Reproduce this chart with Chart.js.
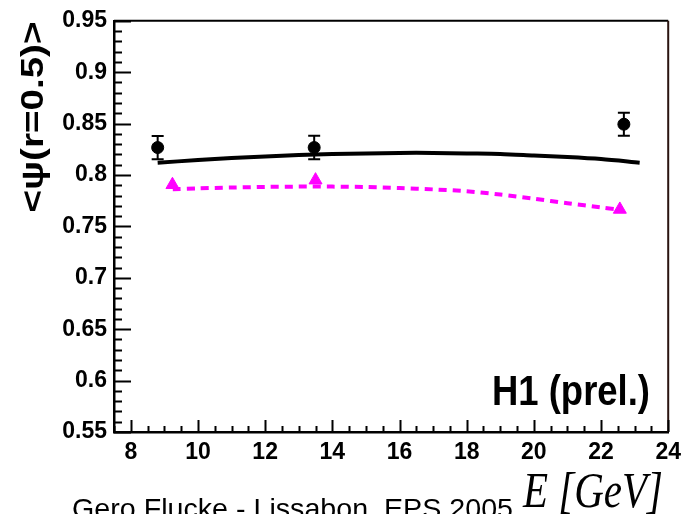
<!DOCTYPE html>
<html>
<head>
<meta charset="utf-8">
<script src="https://cdn.jsdelivr.net/npm/chart.js@4.4.1/dist/chart.umd.min.js"></script>
<style>
  html, body { margin: 0; padding: 0; background: #fff; overflow: hidden; }
  #c { display: block; }
</style>
</head>
<body>
<canvas id="c" width="688" height="514"></canvas>
<script>
// data points (black circles) with errors
const dataE = [8.80, 13.46, 22.68];
const dataPsi = [0.8267, 0.8267, 0.8494];
const dataErr = [0.0113, 0.0115, 0.0112];

// MC points (magenta triangles)
const mcE = [9.24, 13.50, 22.56];
const mcPsi = [0.7905, 0.795, 0.7665];

// solid black curve
const curveE = [8.8, 10, 11, 12, 13, 14, 15, 16, 17, 18, 19, 20, 21, 22, 23.15];
const curvePsi = [0.812, 0.8145, 0.8165, 0.818, 0.8195, 0.8205, 0.821, 0.8215, 0.8215, 0.821, 0.8205, 0.819, 0.8175, 0.8155, 0.812];

// dashed magenta curve
const dashE = [9.25, 10, 11, 12, 13, 14, 15, 16, 17, 18, 19, 20, 21, 22, 22.5];
const dashPsi = [0.7862, 0.787, 0.7878, 0.7884, 0.7887, 0.7887, 0.7883, 0.7873, 0.786, 0.7842, 0.781, 0.777, 0.7725, 0.7685, 0.7665];

const xTicks = [8, 10, 12, 14, 16, 18, 20, 22, 24];
const yTicks = [0.55, 0.6, 0.65, 0.7, 0.75, 0.8, 0.85, 0.9, 0.95];

const toXY = (xs, ys) => xs.map((x, i) => ({ x: x, y: ys[i] }));
const FONT = '"Liberation Sans", Arial, sans-serif';

// text squeezed/stretched to a target width, extra vertical factor sy
function fitText(ctx, text, font, x, y, w, sy, align) {
  ctx.save();
  ctx.font = font;
  const mw = ctx.measureText(text).width;
  ctx.translate(x, y);
  ctx.scale(w / mw, sy);
  ctx.textAlign = align || 'left';
  ctx.textBaseline = 'alphabetic';
  ctx.fillText(text, 0, 0);
  ctx.restore();
}

const rootStyle = {
  id: 'rootStyle',
  beforeDatasetsDraw(chart) {
    const ctx = chart.ctx, xs = chart.scales.x, ys = chart.scales.y;
    ctx.save();
    ctx.strokeStyle = '#000';
    ctx.lineWidth = 2;
    dataE.forEach((e, i) => {
      const px = xs.getPixelForValue(e);
      const y1 = ys.getPixelForValue(dataPsi[i] + dataErr[i]);
      const y2 = ys.getPixelForValue(dataPsi[i] - dataErr[i]);
      ctx.beginPath();
      ctx.moveTo(px, y1); ctx.lineTo(px, y2);
      ctx.moveTo(px - 6, y1); ctx.lineTo(px + 6, y1);
      ctx.moveTo(px - 6, y2); ctx.lineTo(px + 6, y2);
      ctx.stroke();
    });
    ctx.restore();
  },
  afterDraw(chart) {
    const ctx = chart.ctx, a = chart.chartArea;
    const xs = chart.scales.x, ys = chart.scales.y;
    ctx.save();
    // frame top and right
    ctx.lineWidth = 2;
    ctx.strokeStyle = '#000';
    ctx.beginPath();
    ctx.moveTo(a.left, a.top); ctx.lineTo(a.right, a.top);
    ctx.stroke();
    ctx.strokeStyle = '#2a1410';
    ctx.beginPath();
    ctx.moveTo(a.right, a.top); ctx.lineTo(a.right, a.bottom);
    ctx.stroke();

    // inner ticks
    ctx.strokeStyle = '#000';
    ctx.lineWidth = 2;
    ctx.beginPath();
    for (let v = 0.55; v <= 0.9501; v += 0.01) {
      const py = Math.round(ys.getPixelForValue(v)) + 0.5;
      const major = Math.abs(Math.round(v * 100) % 5) === 0;
      ctx.moveTo(a.left, py); ctx.lineTo(a.left + (major ? 17 : 8), py);
    }
    for (let v = 7.5; v <= 24.001; v += 0.5) {
      const px = Math.round(xs.getPixelForValue(v)) + 0.5;
      const major = Math.abs(v % 2) < 0.01;
      ctx.moveTo(px, a.bottom); ctx.lineTo(px, a.bottom - (major ? 12 : 6));
    }
    ctx.stroke();

    // texts
    ctx.fillStyle = '#000';
    fitText(ctx, 'H1 (prel.)', 'bold 36px ' + FONT, 492, 405, 158, 1.16);
    fitText(ctx, 'E [GeV]', 'italic 41px "Liberation Serif", "Times New Roman", serif', 523, 507, 140, 1.25);
    fitText(ctx, 'Gero Flucke - Lissabon, EPS 2005', '28px ' + FONT, 72, 518, 441, 1);

    // y title, rotated
    ctx.save();
    ctx.translate(43, 117);
    ctx.rotate(-Math.PI / 2);
    ctx.font = 'bold 31px ' + FONT;
    const t = '<\u03c8(r=0.5)>';
    const mw = ctx.measureText(t).width;
    ctx.scale(191 / mw, 1);
    ctx.textAlign = 'center';
    ctx.textBaseline = 'alphabetic';
    ctx.fillText(t, 0, 0);
    ctx.restore();

    ctx.restore();
  }
};

new Chart(document.getElementById('c'), {
  type: 'scatter',
  data: {
    datasets: [
      {
        data: toXY(curveE, curvePsi), showLine: true, borderColor: '#000', borderWidth: 4,
        pointRadius: 0, tension: 0.3, order: 4
      },
      {
        data: toXY(dashE, dashPsi), showLine: true, borderColor: '#ff00ff', borderWidth: 4,
        borderDash: [8, 6], pointRadius: 0, tension: 0.3, order: 3
      },
      {
        data: toXY(mcE, mcPsi), pointStyle: 'triangle', pointRadius: 7.5,
        backgroundColor: '#ff00ff', borderColor: '#ff00ff', borderWidth: 1, order: 2
      },
      {
        data: toXY(dataE, dataPsi), pointStyle: 'circle', pointRadius: 6,
        backgroundColor: '#000', borderColor: '#000', borderWidth: 1, order: 1
      }
    ]
  },
  options: {
    responsive: false,
    animation: false,
    layout: { padding: { top: 19, right: 14, left: 0, bottom: 0 } },
    plugins: { legend: { display: false }, tooltip: { enabled: false } },
    scales: {
      x: {
        type: 'linear', min: 7.5, max: 24,
        afterFit: s => { s.height = 82; },
        afterBuildTicks: s => { s.ticks = xTicks.map(v => ({ value: v })); },
        grid: { display: false, drawTicks: false },
        border: { display: true, color: '#000', width: 2.5 },
        ticks: {
          color: '#000', padding: 7, maxRotation: 0, autoSkip: false,
          font: { family: FONT, size: 23, weight: 'bold' },
          callback: v => String(v)
        }
      },
      y: {
        type: 'linear', min: 0.55, max: 0.95,
        afterFit: s => { s.width = 114; },
        afterBuildTicks: s => { s.ticks = yTicks.map(v => ({ value: v })); },
        grid: { display: false, drawTicks: false },
        border: { display: true, color: '#000', width: 2.5 },
        ticks: {
          color: '#000', padding: 7, autoSkip: false,
          font: { family: FONT, size: 23, weight: 'bold' },
          callback: v => String(+v.toFixed(2))
        }
      }
    }
  },
  plugins: [rootStyle]
});
</script>
</body>
</html>
